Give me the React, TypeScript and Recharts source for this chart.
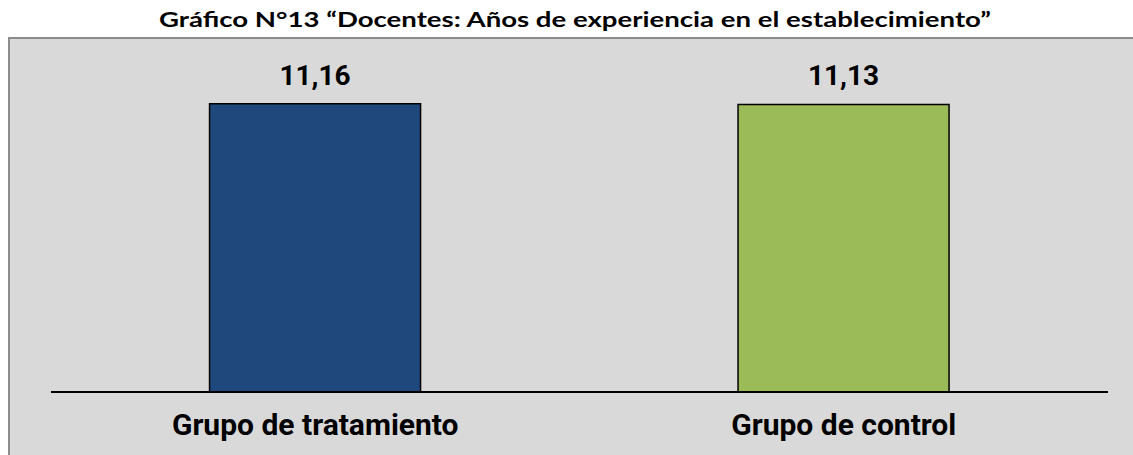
import React from "react";
import { BarChart, Bar, XAxis, YAxis, Cell, LabelList } from "recharts";

const categories = ["Grupo de tratamiento", "Grupo de control"];
const values = [11.16, 11.13];
const valueLabels = ["11,16", "11,13"];
const colors = ["#1F497D", "#9BBB59"];
const title = "Gráfico N°13 “Docentes: Años de experiencia en el establecimiento”";

const data = categories.map((c, i) => ({ name: c, value: values[i], label: valueLabels[i] }));

export default function App() {
  return (
    <div style={{ position: "absolute", left: 0, top: 0, width: 1133, height: 455, background: "#FFFFFF", overflow: "hidden" }}>
      <div
        style={{
          position: "absolute",
          left: 8,
          top: 37,
          width: 1140,
          height: 460,
          background: "#D9D9D9",
          borderTop: "2px solid #8C8C8C",
          borderLeft: "2px solid #8C8C8C",
        }}
      />
      <svg width={1133} height={36} style={{ position: "absolute", left: 0, top: 0 }}>
        <text
          x={159}
          y={27}
          fontFamily="Lato, 'DejaVu Sans', sans-serif"
          fontWeight="bold"
          fontSize={21}
          fill="#000"
          textLength={832}
          lengthAdjust="spacingAndGlyphs"
        >
          {title}
        </text>
      </svg>
      <div style={{ position: "absolute", left: 0, top: 0 }}>
        <BarChart
          width={1133}
          height={455}
          data={data}
          margin={{ top: 82, right: 25, bottom: 0, left: 51 }}
          barCategoryGap="30%"
        >
          <YAxis hide domain={[0, 12]} width={0} />
          <XAxis
            dataKey="name"
            height={63}
            tickSize={0}
            tickMargin={22}
            tickLine={false}
            axisLine={{ stroke: "#000000", strokeWidth: 2 }}
            tick={{ fill: "#000000", fontSize: 30, fontWeight: "bold", fontFamily: "Roboto, sans-serif" }}
          />
          <Bar dataKey="value" isAnimationActive={false} stroke="#000000" strokeWidth={1.5}>
            {data.map((d, i) => (
              <Cell key={d.name} fill={colors[i]} />
            ))}
            <LabelList
              dataKey="label"
              position="top"
              offset={19}
              fill="#000000"
              fontSize={28}
              fontWeight="bold"
              fontFamily="Roboto, sans-serif"
            />
          </Bar>
        </BarChart>
      </div>
    </div>
  );
}
